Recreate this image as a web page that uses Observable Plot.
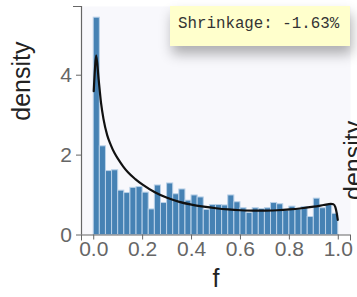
<!DOCTYPE html>
<html><head><meta charset="utf-8">
<script src="https://cdn.jsdelivr.net/npm/d3@7"></script>
<script src="https://cdn.jsdelivr.net/npm/@observablehq/plot@0.6"></script>
<style>
html,body{margin:0;padding:0;background:#fff;overflow:hidden;}
#wrap{position:relative;width:357px;height:297px;}
#tip{position:absolute;left:170px;top:6px;width:180px;height:40px;background:#ffffcc;box-shadow:2px 8px 12px rgba(0,0,0,0.3);font-family:"Liberation Mono",monospace;font-size:15.8px;color:#333;box-sizing:border-box;padding-left:8px;line-height:37px;white-space:nowrap;}
</style></head><body>
<div id="wrap"><div id="tip">Shrinkage: -1.63%</div></div>
<script>
const binWidth = 0.025;
const histDensity = [5.44, 2.22, 1.60, 1.62, 1.11, 1.05, 1.18, 1.20, 1.06, 0.64,
  1.24, 0.80, 1.29, 1.02, 1.14, 0.86, 0.99, 0.94, 0.63, 0.75,
  0.75, 0.74, 0.99, 0.82, 0.67, 0.55, 0.67, 0.65, 0.67, 0.80,
  0.77, 0.61, 0.71, 0.64, 0.70, 0.45, 0.91, 0.67, 0.75, 0.53];
const curveF = [0.0, 0.005, 0.01, 0.02, 0.03, 0.04, 0.055, 0.07, 0.085, 0.1, 0.12, 0.14, 0.17, 0.2, 0.25, 0.3, 0.35, 0.4, 0.45, 0.5, 0.55, 0.6, 0.65, 0.7, 0.75, 0.8, 0.85, 0.9, 0.94, 0.97, 0.98, 0.988, 0.993, 0.998];
const curveDensity = [3.6, 4.15, 4.5, 3.9, 3.3, 2.9, 2.5, 2.25, 2.05, 1.9, 1.72, 1.57, 1.40, 1.26, 1.07, 0.93, 0.83, 0.76, 0.71, 0.67, 0.64, 0.62, 0.61, 0.61, 0.62, 0.64, 0.67, 0.71, 0.75, 0.78, 0.77, 0.70, 0.57, 0.38];
const xTicks = [0, 0.2, 0.4, 0.6, 0.8, 1.0];
const yTicks = [0, 2, 4];
const xDomain = [-0.05, 1.05];
const yDomain = [0, 5.72];
const xLabel = "f";
const yLabel = "density";

const bins = histDensity.map((d, i) => ({x1: i * binWidth, x2: (i + 1) * binWidth, density: d}));
const curve = curveF.map((f, i) => ({f, density: curveDensity[i]}));

const axisColor = "#666";
const chart = Plot.plot({
  width: 357,
  height: 297,
  marginLeft: 81,
  marginRight: 7,
  marginTop: 6,
  marginBottom: 62.5,
  style: {fontFamily: "'Liberation Sans', Arial, sans-serif", fontSize: "21px", background: "transparent", overflow: "hidden"},
  x: {domain: xDomain, label: null},
  y: {domain: yDomain, label: null},
  marks: [
    Plot.frame({fill: "#f8f8fc", stroke: "none"}),
    Plot.rectY(bins, {x1: "x1", x2: "x2", y: "density", fill: "#4682b4", stroke: "#b9d1e8", strokeWidth: 1}),
    Plot.line(curve, {x: "f", y: "density", stroke: "#111", strokeWidth: 2.2, curve: "monotone-x"}),
    Plot.ruleY([yDomain[0]], {stroke: axisColor, strokeWidth: 1.2}),
    Plot.ruleX([xDomain[0]], {stroke: axisColor, strokeWidth: 1.2}),
    Plot.axisX({ticks: xTicks, tickSize: 5, tickPadding: 1, tickFormat: d3.format(".1f"), color: axisColor, label: null}),
    Plot.axisX({ticks: xDomain, tickSize: 6, tickFormat: () => "", color: axisColor, label: null}),
    Plot.axisY({ticks: yTicks, tickSize: 5, tickPadding: 4.5, tickFormat: d3.format("d"), color: axisColor, label: null}),
    Plot.axisY({ticks: [yDomain[1]], tickSize: 8, tickFormat: () => "", color: axisColor, label: null}),
    Plot.text([xLabel], {frameAnchor: "bottom", dy: 51.5, lineAnchor: "bottom", fontSize: 25, fill: "#222", text: d => d}),
    Plot.text([yLabel], {frameAnchor: "left", dx: -52, rotate: -90, lineAnchor: "bottom", fontSize: 25, fill: "#222", text: d => d}),
    Plot.text([yLabel], {frameAnchor: "right", dx: 11, rotate: -90, lineAnchor: "bottom", fontSize: 25, fill: "#222", text: d => d})
  ]
});
document.getElementById("wrap").insertBefore(chart, document.getElementById("tip"));
</script>
</body></html>
